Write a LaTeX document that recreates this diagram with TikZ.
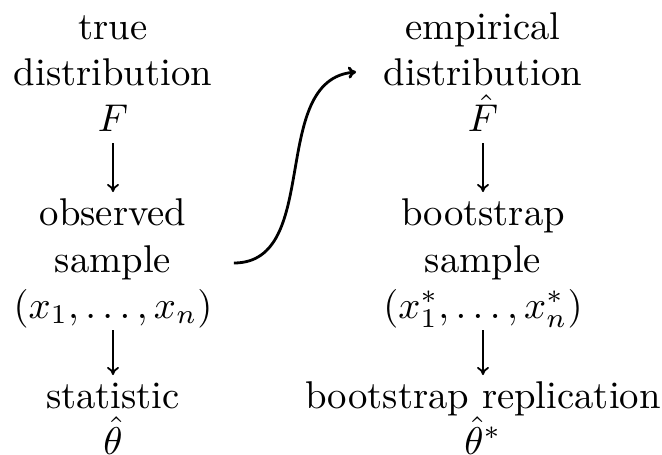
\documentclass[tikz,border=0pt]{standalone}
\usetikzlibrary{arrows.meta}
\begin{document}
\begin{tikzpicture}[x=1pt,y=-1pt,
  lbl/.style={anchor=base,inner sep=0pt,scale=3.87,transform shape},
  varrow/.style={-{To[length=8pt,width=12pt]},line width=1.8pt},
  carrow/.style={-{To[length=8pt,width=12pt]},line width=2.8pt}]
\useasboundingbox (0,0) rectangle (662,455);
% left column
\node[lbl] (tL)  at (113,39)  {true};
\node[lbl] (dL)  at (113,85)  {distribution};
\node[lbl] (FL)  at (113,131) {$F$};
\node[lbl] (oL)  at (113,225) {observed};
\node[lbl] (sL)  at (113,272) {sample};
\node[lbl] (xL)  at (113,318) {$(x_1,\dots,x_n)$};
\node[lbl] (stL) at (113,408) {statistic};
\node[lbl] (thL) at (113,454) {$\hat\theta$};
% right column
\node[lbl] (eR)  at (483,39)  {empirical};
\node[lbl] (dR)  at (483,85)  {distribution};
\node[lbl] (FR)  at (483,131) {$\hat F$};
\node[lbl] (bR)  at (483,225) {bootstrap};
\node[lbl] (sR)  at (483,272) {sample};
\node[lbl] (xR)  at (483,318) {$(x_1^*,\dots,x_n^*)$};
\node[lbl] (brR) at (483,408) {bootstrap replication};
\node[lbl] (thR) at (483,454) {$\hat\theta^*$};
% arrows
\draw[varrow] ([yshift=-12pt]FL.base) -- ([yshift=33pt]oL.base);
\draw[varrow] ([yshift=-12pt]xL.base) -- ([yshift=33pt]stL.base);
\draw[varrow] ([yshift=-12pt]FR.base) -- ([yshift=33pt]bR.base);
\draw[varrow] ([yshift=-12pt]xR.base) -- ([yshift=33pt]brR.base);
\draw[carrow] ([shift={(62pt,9pt)}]sL.base east) to[out=0,in=185] ([shift={(-27pt,13pt)}]dR.base west);
\end{tikzpicture}
\end{document}
